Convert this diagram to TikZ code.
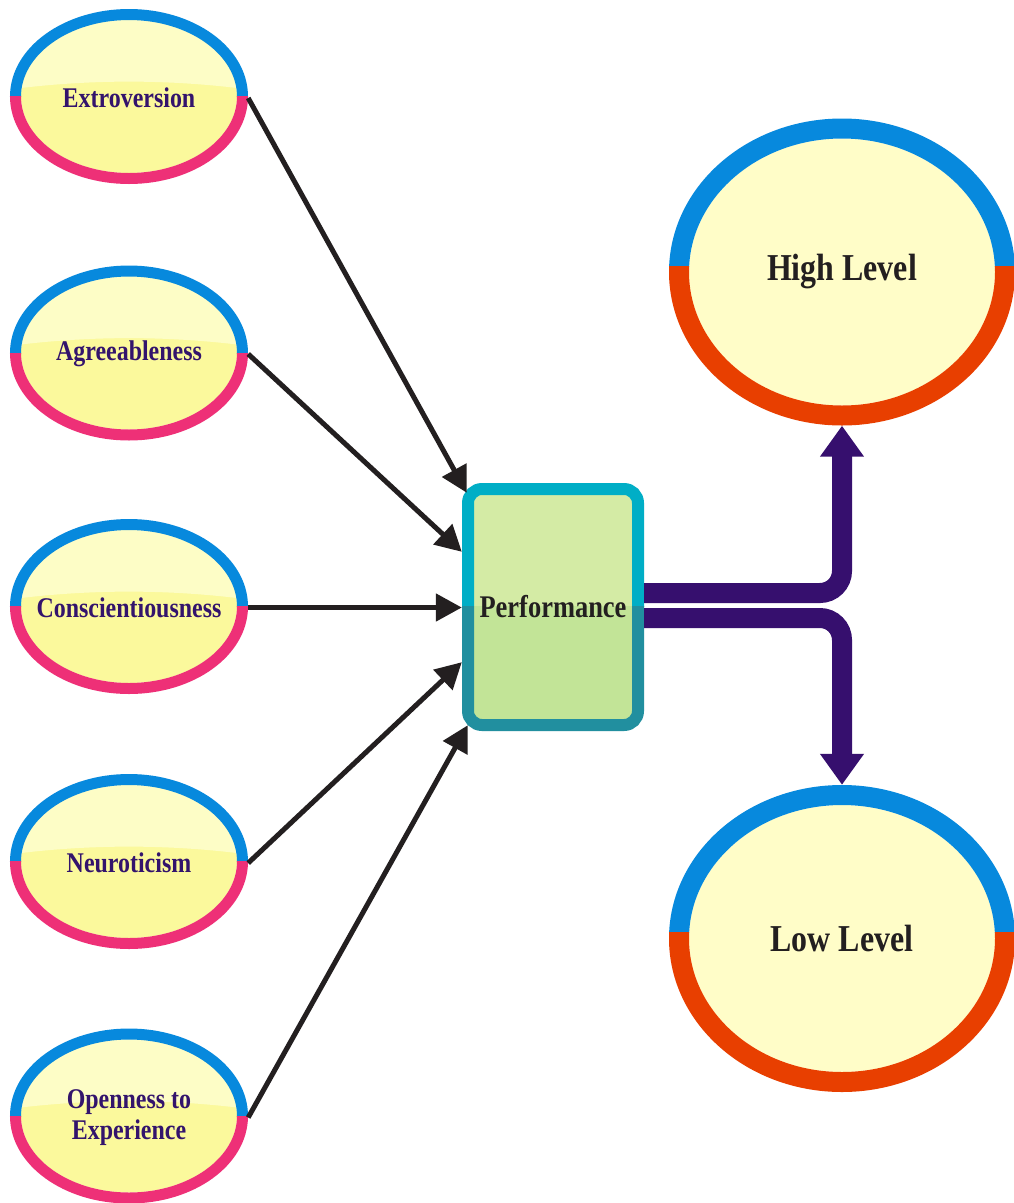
\documentclass[tikz,border=0pt]{standalone}
\usepackage{fontspec}
\setmainfont{Liberation Serif}
\newfontfamily\labelfont{Liberation Serif}[FakeStretch=0.84]
\usetikzlibrary{arrows.meta,shapes.geometric,calc}

\definecolor{ringblue}{HTML}{0789DD}
\definecolor{ringpink}{HTML}{EE3077}
\definecolor{ringred}{HTML}{E83F00}
\definecolor{traitlight}{HTML}{FDFDC6}
\definecolor{traityellow}{HTML}{FBF99C}
\definecolor{levelfill}{HTML}{FFFDC8}
\definecolor{perfcyan}{HTML}{00AEC6}
\definecolor{perfteal}{HTML}{218F9F}
\definecolor{perflight}{HTML}{D4EBA5}
\definecolor{perfgreen}{HTML}{C2E497}
\definecolor{linkpurple}{HTML}{360F6E}
\definecolor{inkdark}{HTML}{231F20}
\definecolor{inkpurple}{HTML}{33146C}

% trait bubble: glossy yellow fill, blue upper rim, pink lower rim
\newcommand\traitbubble[2]{%
  \begin{scope}
    \clip (#1,#2) ellipse [x radius=108pt, y radius=76.5pt];
    \fill[traityellow] (#1-120,#2-90) rectangle (#1+120,#2+90);
    \fill[traitlight] (#1-120,#2-7) .. controls (#1-40,#2-17.5) and (#1+40,#2-17.5) .. (#1+120,#2-7)
      -- (#1+120,#2-90) -- (#1-120,#2-90) -- cycle;
  \end{scope}
  \begin{scope}
    \clip (#1-130,#2) rectangle (#1+130,#2-100);
    \draw[ringblue, line width=11pt] (#1,#2) ellipse [x radius=113.5pt, y radius=82pt];
  \end{scope}
  \begin{scope}
    \clip (#1-130,#2) rectangle (#1+130,#2+100);
    \draw[ringpink, line width=11pt] (#1,#2) ellipse [x radius=113.5pt, y radius=82pt];
  \end{scope}}

% outcome bubble: pale fill, blue upper rim, red lower rim
\newcommand\levelbubble[2]{%
  \fill[levelfill] (#1,#2) ellipse [x radius=153pt, y radius=133.5pt];
  \begin{scope}
    \clip (#1-190,#2-6) rectangle (#1+190,#2-170);
    \draw[ringblue, line width=20pt] (#1,#2) ellipse [x radius=163pt, y radius=143.5pt];
  \end{scope}
  \begin{scope}
    \clip (#1-190,#2-6) rectangle (#1+190,#2+170);
    \draw[ringred, line width=20pt] (#1,#2) ellipse [x radius=163pt, y radius=143.5pt];
  \end{scope}}

\tikzset{
  trait/.style={rectangle, minimum width=238pt, minimum height=175pt, inner sep=0pt,
    align=center, text=inkpurple,
    font=\labelfont\bfseries\fontsize{28.5pt}{31pt}\selectfont},
  level/.style={ellipse, minimum width=346pt, minimum height=307pt, inner sep=0pt,
    text=inkdark, font=\labelfont\bfseries\fontsize{38pt}{42pt}\selectfont},
  perfbox/.style={rectangle, minimum width=182pt, minimum height=248pt, inner sep=0pt,
    text=inkdark, font=\labelfont\bfseries\fontsize{31.5pt}{34pt}\selectfont},
  feed/.style={draw=inkdark, line width=5pt, -{Triangle[length=26pt,width=27pt]}},
  outcome/.style={draw=linkpurple, line width=20pt, rounded corners=22pt,
    -{Triangle[length=31pt,width=42pt]}}
}

\begin{document}
\begin{tikzpicture}[x=1pt,y=-1pt]
\useasboundingbox (0,0) rectangle (1014,1203);
\fill[white] (0,0) rectangle (1014,1203);

% trait bubbles
\traitbubble{129}{96.5}
\traitbubble{129}{353}
\traitbubble{129}{606.5}
\traitbubble{129}{861.5}
\traitbubble{129}{1116}

% outcome bubbles
\levelbubble{842}{272}
\levelbubble{842}{938.5}

% performance box, two-tone frame
\begin{scope}
  \clip (450,470) rectangle (660,606);
  \draw[perfcyan, fill=perflight, line width=12pt, rounded corners=14pt] (468,489) rectangle (638,725);
\end{scope}
\begin{scope}
  \clip (450,606) rectangle (660,745);
  \draw[perfteal, fill=perfgreen, line width=12pt, rounded corners=14pt] (468,489) rectangle (638,725);
\end{scope}

% labels
\node[trait] (ext) at (129,98) {Extroversion};
\node[trait] (agr) at (129,354) {Agreeableness};
\node[trait] (con) at (129,607.5) {Conscientiousness};
\node[trait] (neu) at (129,863) {Neuroticism};
\node[trait] (ope) at (129,1117.5) {Openness to\\Experience};
\node[perfbox] (perf) at (553,607) {Performance};
\node[level] (hi) at (842,272) {High Level};
\node[level] (lo) at (842,938.5) {Low Level};

% trait -> performance
\draw[feed] (ext.east) -- ($(perf.north west)+(5,10)$);
\draw[feed] (agr.east) -- ($(perf.north west)+(0,69)$);
\draw[feed] (con.east) -- (con.east -| perf.west);
\draw[feed] (neu.east) -- ($(perf.south west)+(0,-69)$);
\draw[feed] (ope.east) -- ($(perf.south west)+(6,-6)$);

% performance -> outcome levels
\draw[outcome] ($(perf.east)+(0,-14)$) -| (hi.south);
\draw[outcome] ($(perf.east)+(0,11)$) -| (lo.north);
\end{tikzpicture}
\end{document}
